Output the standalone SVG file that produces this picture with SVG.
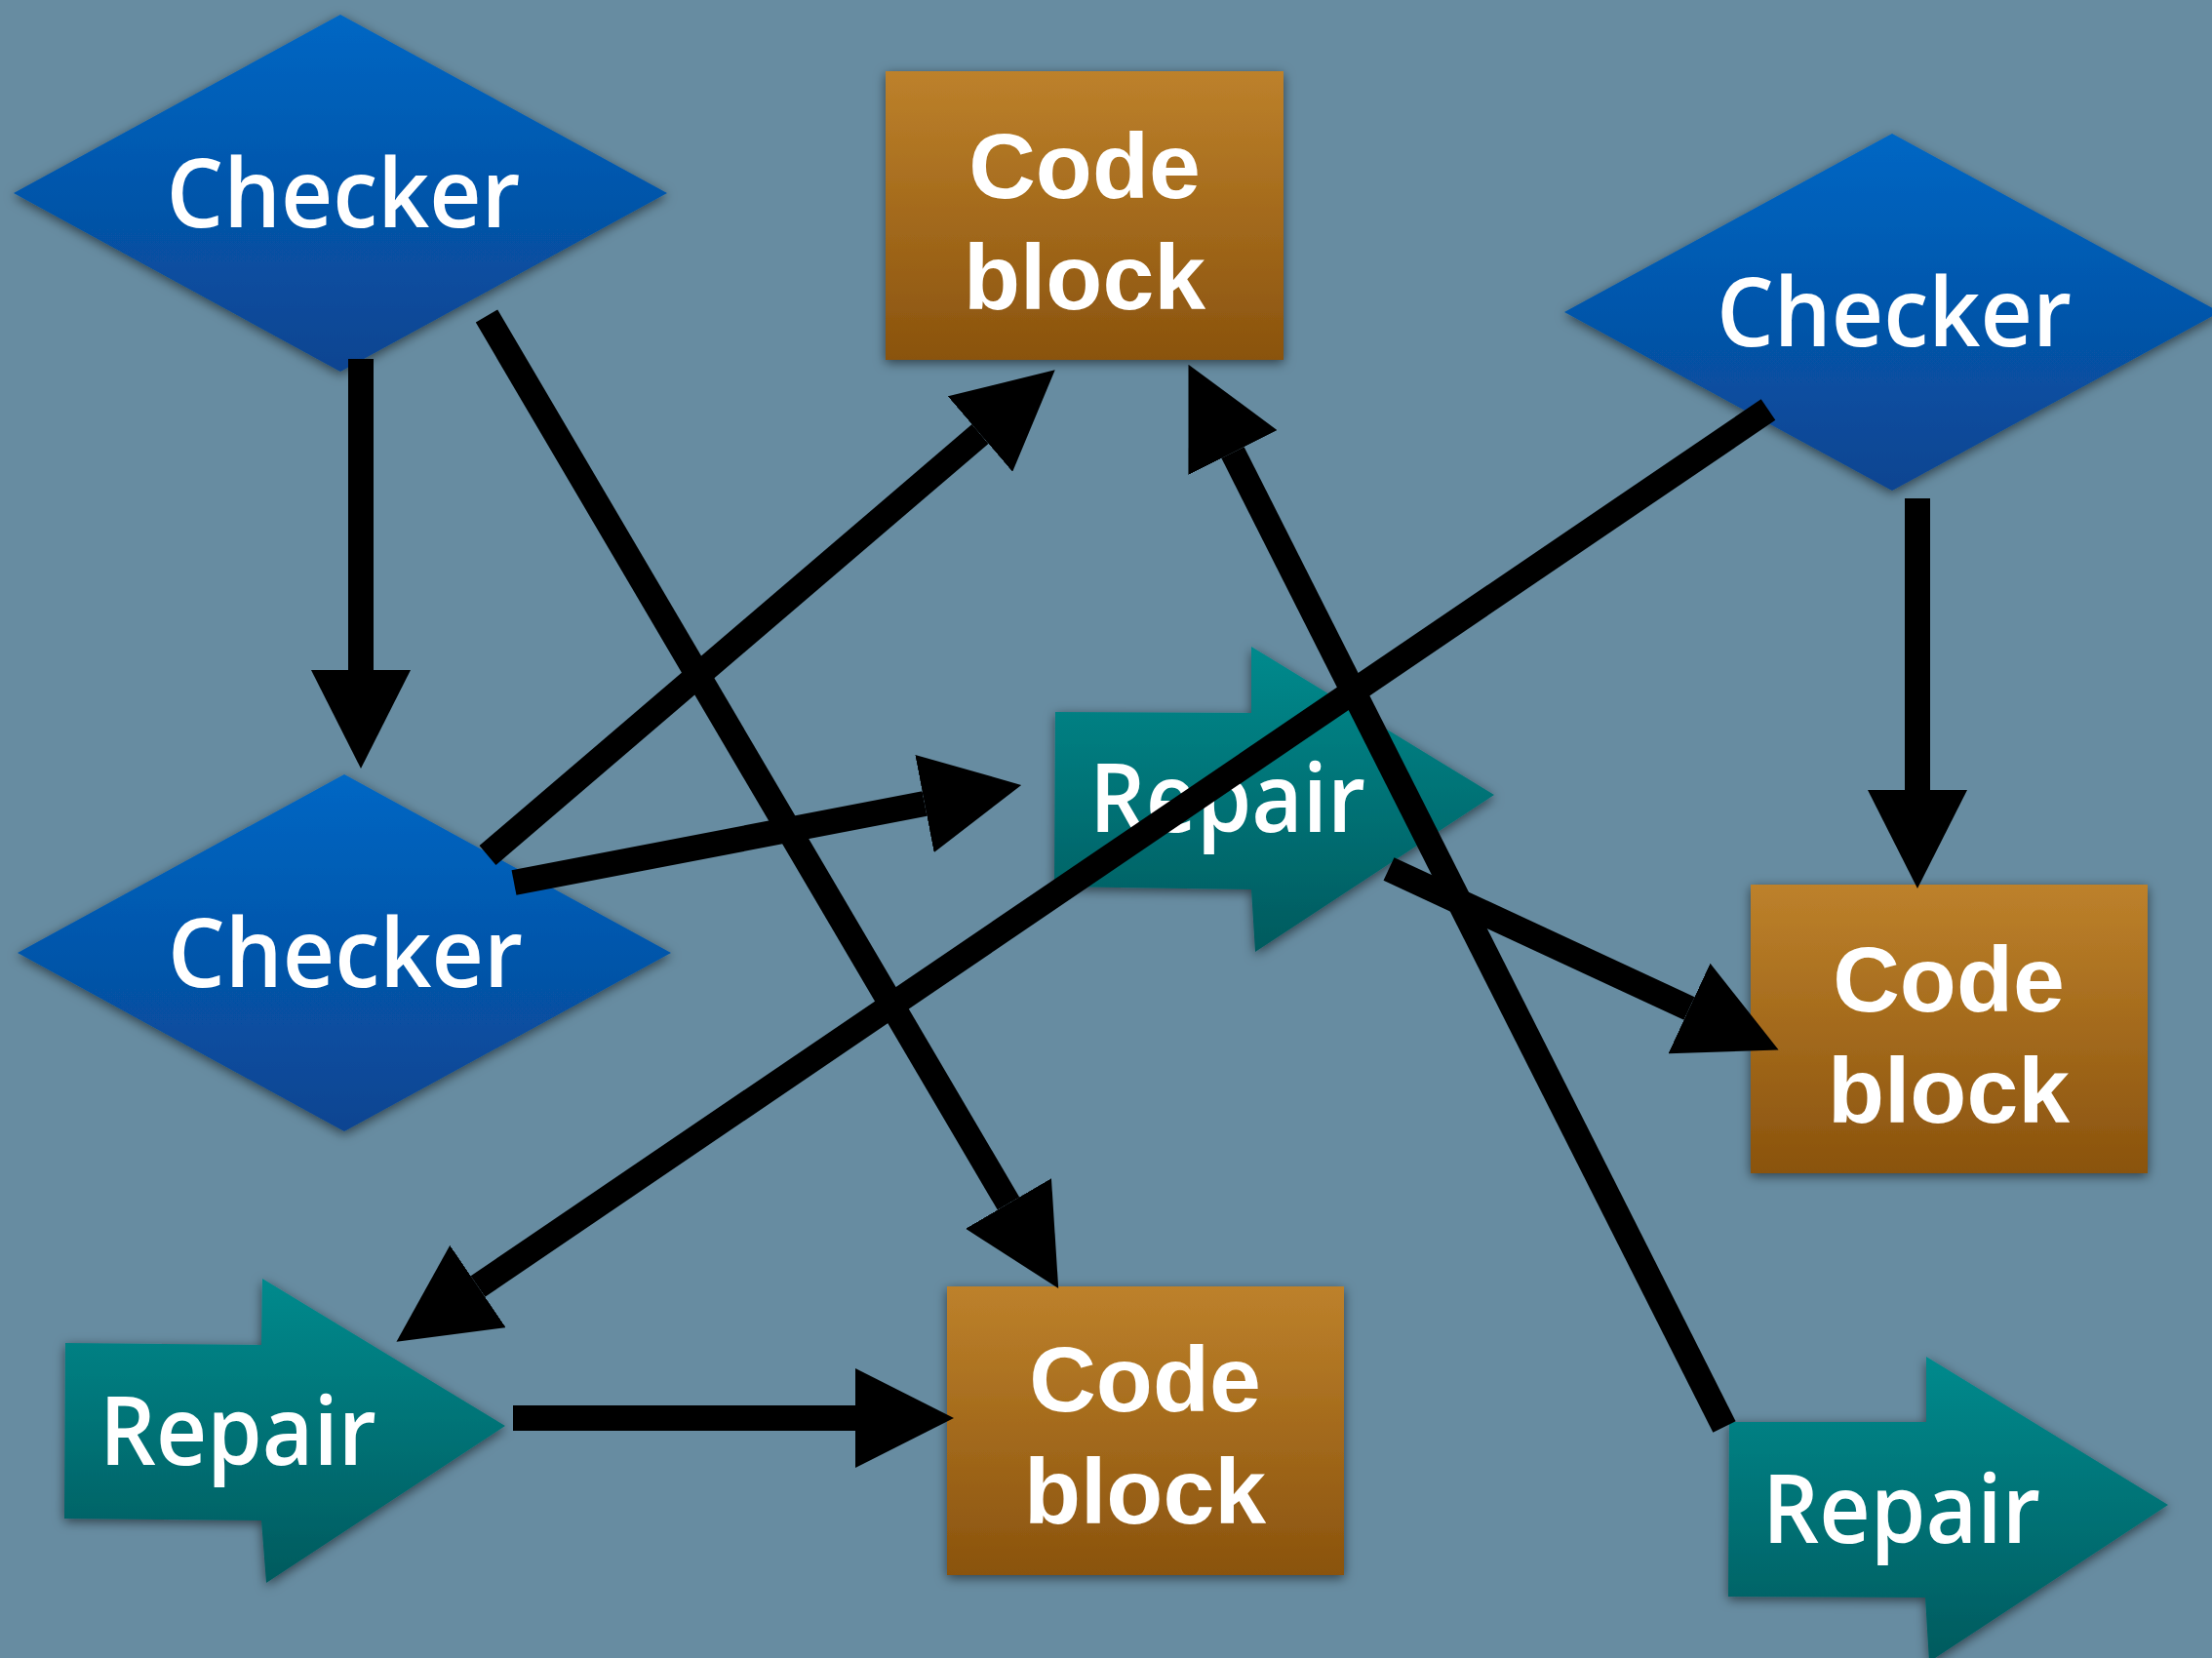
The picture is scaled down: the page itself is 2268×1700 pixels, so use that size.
<svg xmlns="http://www.w3.org/2000/svg" width="2268" height="1700" viewBox="0 0 2268 1700">
  <defs>
    <linearGradient id="gChecker" x1="0" y1="0" x2="0" y2="1">
      <stop offset="0" stop-color="#0067c4"/>
      <stop offset="1" stop-color="#0a4491"/>
    </linearGradient>
    <linearGradient id="gCode" x1="0" y1="0" x2="0" y2="1">
      <stop offset="0" stop-color="#bd812b"/>
      <stop offset="1" stop-color="#8a530d"/>
    </linearGradient>
    <linearGradient id="gRepair" x1="0" y1="0" x2="0" y2="1">
      <stop offset="0" stop-color="#008a8d"/>
      <stop offset="1" stop-color="#045a5e"/>
    </linearGradient>
    <filter id="shadow" x="-10%" y="-10%" width="120%" height="125%">
      <feDropShadow dx="0" dy="3" stdDeviation="6" flood-color="#000" flood-opacity="0.55"/>
    </filter>
    <marker id="head" viewBox="0 0 101 102" refX="0" refY="51" markerWidth="101" markerHeight="102" markerUnits="userSpaceOnUse" orient="auto">
      <path d="M0,0 L101,51 L0,102 Z" fill="#000"/>
    </marker>
    <style>
      .checker { fill: url(#gChecker); filter: url(#shadow); }
      .code { fill: url(#gCode); filter: url(#shadow); }
      .repair { fill: url(#gRepair); filter: url(#shadow); }
      .lblA { font-family: "Open Sans", "Noto Sans", sans-serif; font-weight: 600; font-size: 97px; fill: #fff; }
      .lblB { font-family: "Liberation Sans", Arial, sans-serif; font-weight: 700; font-size: 95px; fill: #fff; text-anchor: middle; }
      .edge { fill: none; stroke: #000; stroke-width: 26; stroke-linecap: butt; marker-end: url(#head); }
    </style>
  </defs>

  <rect x="0" y="0" width="2268" height="1700" fill="#678ca1"/>

  <g id="checker-1">
    <polygon class="checker" points="349,15 684,198 349,381 14,198"/>
    <text class="lblA" x="352" y="233" text-anchor="middle" textLength="363" lengthAdjust="spacingAndGlyphs">Checker</text>
  </g>
  <g id="checker-2">
    <polygon class="checker" points="353,794 688,977 353,1160 18,977"/>
    <text class="lblA" x="354" y="1012" text-anchor="middle" textLength="364" lengthAdjust="spacingAndGlyphs">Checker</text>
  </g>
  <g id="checker-3">
    <polygon class="checker" points="1940,137 2276,320 1940,503 1604,320"/>
    <text class="lblA" x="1942" y="355" text-anchor="middle" textLength="364" lengthAdjust="spacingAndGlyphs">Checker</text>
  </g>

  <g id="code-block-1">
    <rect class="code" x="908" y="73" width="408" height="296"/>
    <text class="lblB" x="1112" y="203">Code</text>
    <text class="lblB" x="1112" y="317">block</text>
  </g>
  <g id="code-block-2">
    <rect class="code" x="1795" y="907" width="407" height="296"/>
    <text class="lblB" x="1998" y="1037">Code</text>
    <text class="lblB" x="1998" y="1151">block</text>
  </g>
  <g id="code-block-3">
    <rect class="code" x="971" y="1319" width="407" height="296"/>
    <text class="lblB" x="1174" y="1447">Code</text>
    <text class="lblB" x="1174" y="1562">block</text>
  </g>

  <g id="repair-1">
    <polygon class="repair" points="1082,730 1283,731 1283,663 1532,815 1287,976 1283,912 1081,909"/>
    <text class="lblA" x="1117" y="853" textLength="283" lengthAdjust="spacingAndGlyphs">Repair</text>
  </g>
  <g id="repair-2">
    <polygon class="repair" points="67,1377 268,1379 269,1311 518,1462 273,1623 268,1559 66,1557"/>
    <text class="lblA" x="102" y="1502" textLength="284" lengthAdjust="spacingAndGlyphs">Repair</text>
  </g>
  <g id="repair-3">
    <polygon class="repair" points="1773,1458 1975,1458 1975,1391 2223,1543 1978,1704 1974,1638 1772,1637"/>
    <text class="lblA" x="1807" y="1582" textLength="285" lengthAdjust="spacingAndGlyphs">Repair</text>
  </g>

  <g id="connectors">
    <path class="edge" d="M370,368 L370,687"/>
    <path class="edge" d="M526,1454 L877,1454"/>
    <path class="edge" d="M500,877 L1005,445"/>
    <path class="edge" d="M527,905 L948,824"/>
    <path class="edge" d="M499,324 L1034,1234"/>
    <path class="edge" d="M1813,420 L490,1319"/>
    <path class="edge" d="M1966,511 L1966,810"/>
    <path class="edge" d="M1424,891 L1732,1034"/>
    <path class="edge" d="M1768,1463 L1264,464"/>
  </g>
</svg>
